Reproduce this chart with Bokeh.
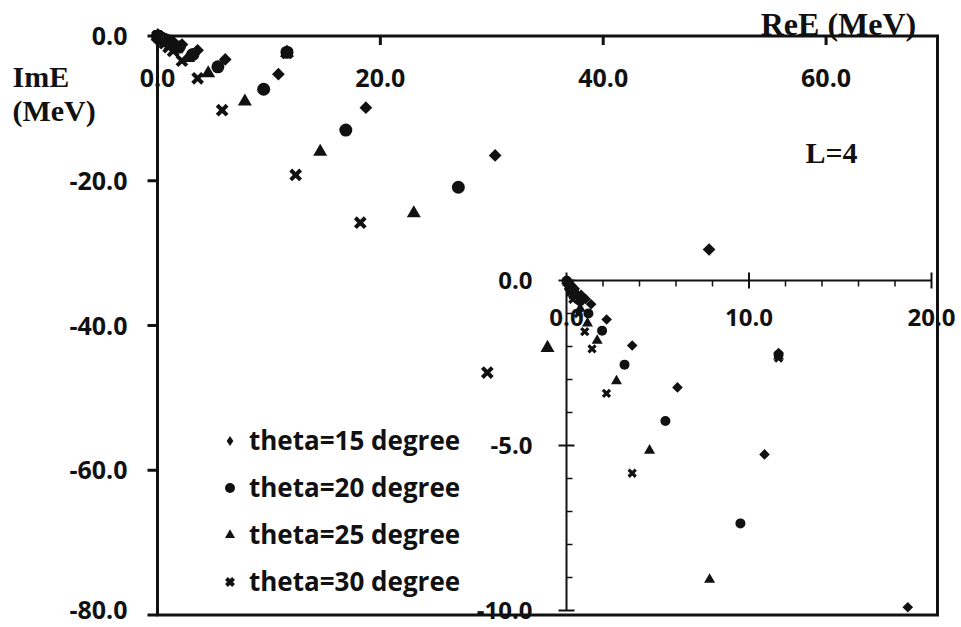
import numpy as np
from bokeh.plotting import figure
from bokeh.models import (Range1d, Label, Legend, LegendItem, ColumnDataSource,
                          CDSView, BooleanFilter)
from bokeh.core.properties import value
from bokeh.embed import file_html
from bokeh.resources import INLINE

# ---------------- data (ReE, ImE in MeV) ----------------
theta15_re = [0.01, 0.05, 0.15, 0.28, 0.45, 0.80, 1.05, 1.35, 2.20, 3.60, 6.08, 10.85, 11.62, 18.7, 30.3, 49.5]
theta15_im = [-0.01, -0.03, -0.08, -0.15, -0.25, -0.43, -0.56, -0.72, -1.18, -1.97, -3.24, -5.27, -2.20, -9.9, -16.5, -29.5]

theta20_re = [0.01, 0.05, 0.15, 0.27, 0.42, 0.75, 1.20, 1.95, 3.18, 5.42, 9.53, 11.62, 16.9, 27.0]
theta20_im = [-0.01, -0.04, -0.13, -0.23, -0.35, -0.63, -1.00, -1.52, -2.55, -4.26, -7.36, -2.25, -13.0, -20.9]

theta25_re = [0.01, 0.05, 0.15, 0.26, 0.42, 0.75, 1.15, 1.68, 2.74, 4.55, 7.84, 11.62, 14.6, 23.0, 35.0]
theta25_im = [-0.01, -0.05, -0.17, -0.29, -0.47, -0.85, -1.30, -1.82, -3.05, -5.15, -9.06, -2.30, -16.0, -24.5, -43.1]

theta30_re = [0.01, 0.04, 0.12, 0.22, 0.35, 0.65, 1.00, 1.40, 2.19, 3.60, 5.80, 11.62, 12.4, 18.2, 29.6]
theta30_im = [-0.02, -0.07, -0.20, -0.36, -0.57, -1.00, -1.55, -2.07, -3.42, -5.84, -10.25, -2.35, -19.2, -25.8, -46.5]

series_labels = ["theta=15 degree", "theta=20 degree", "theta=25 degree", "theta=30 degree"]

main_x_ticks = [0, 20, 40, 60]
main_y_ticks = [0, -20, -40, -60, -80]
main_x_max, main_y_min = 70, -80
inset_x_ticks = [0, 10, 20]
inset_y_ticks = [0, -5, -10]
inset_x_minor_step = 2
inset_y_minor_step = 1

# ---------------- layout (pixels) ----------------
W, H = 961, 627
BOX_L, BOX_R, BOX_T, BOX_B = 157, 937, 35.5, 614.5        # main plot box
SX = (BOX_R - BOX_L) / main_x_max
SY = (BOX_B - BOX_T) / -main_y_min
I_X0, I_Y0 = 566, 280                                      # inset origin
I_SX = (931 - I_X0) / max(inset_x_ticks)
I_SY = (610 - I_Y0) / -min(inset_y_ticks)

SANS = "Open Sans"
SERIF = "Liberation Serif"
INK = "#111111"

p = figure(width=W, height=H, title=None,
           x_range=Range1d(-BOX_L / SX, (W - BOX_L) / SX),
           y_range=Range1d(-(H - BOX_T) / SY, BOX_T / SY),
           x_axis_location=None, y_axis_location=None,
           min_border=0, output_backend="svg", toolbar_location=None,
           background_fill_color="white", border_fill_color="white")
p.grid.visible = False
p.outline_line_color = None

p.extra_x_ranges = {"ix": Range1d(-I_X0 / I_SX, (W - I_X0) / I_SX)}
p.extra_y_ranges = {"iy": Range1d(-(H - I_Y0) / I_SY, I_Y0 / I_SY)}
IR = dict(x_range_name="ix", y_range_name="iy")

# ---------------- main axes (box, ticks, labels) ----------------
p.line(x=[0, main_x_max, main_x_max, 0, 0], y=[0, 0, main_y_min, main_y_min, 0],
       line_color=INK, line_width=3, line_join="miter")
p.segment(x0=main_x_ticks, x1=main_x_ticks, y0=[0] * len(main_x_ticks),
          y1=[-9 / SY] * len(main_x_ticks), line_color=INK, line_width=3)
p.segment(x0=[-10 / SX] * len(main_y_ticks), x1=[0] * len(main_y_ticks),
          y0=main_y_ticks, y1=main_y_ticks, line_color=INK, line_width=3)
lab = dict(text_font=value(SANS), text_font_style="bold", text_color=INK, text_baseline="middle")
p.text(x=main_x_ticks, y=[0] * len(main_x_ticks), text=[f"{v:.1f}" for v in main_x_ticks],
       y_offset=41.5, text_align="center", text_font_size="25px", **lab)
# keep the lowest label inside the canvas
y_lab_off = [min(0.0, (H - 18) - (BOX_T - t * SY)) for t in main_y_ticks]
ysrc = ColumnDataSource(dict(x=[0] * len(main_y_ticks), y=main_y_ticks,
                             t=[f"{v:.1f}" for v in main_y_ticks], dy=y_lab_off))
p.text(x="x", y="y", text="t", y_offset="dy", source=ysrc,
       x_offset=-30, text_align="right", text_font_size="25px", **lab)

# ---------------- inset axes ----------------
x_lo, x_hi = min(inset_x_ticks), max(inset_x_ticks)
y_lo, y_hi = min(inset_y_ticks), max(inset_y_ticks)
p.line(x=[x_lo, x_hi], y=[0, 0], line_color=INK, line_width=2, **IR)
p.line(x=[0, 0], y=[y_hi, y_lo], line_color=INK, line_width=2, **IR)
p.segment(x0=inset_x_ticks, x1=inset_x_ticks, y0=[8 / I_SY] * 3, y1=[-8 / I_SY] * 3,
          line_color=INK, line_width=2, **IR)
p.segment(x0=[-8 / I_SX] * 3, x1=[8 / I_SX] * 3, y0=inset_y_ticks, y1=inset_y_ticks,
          line_color=INK, line_width=2, **IR)
xm = [v for v in np.arange(x_lo, x_hi + 0.01, inset_x_minor_step) if v not in inset_x_ticks]
ym = [v for v in np.arange(y_lo, y_hi + 0.01, inset_y_minor_step) if v not in inset_y_ticks]
p.segment(x0=xm, x1=xm, y0=[0] * len(xm), y1=[-6 / I_SY] * len(xm), line_color=INK, line_width=1.5, **IR)
p.segment(x0=[0] * len(ym), x1=[6 / I_SX] * len(ym), y0=ym, y1=ym, line_color=INK, line_width=1.5, **IR)
p.text(x=inset_x_ticks, y=[0] * len(inset_x_ticks), text=[f"{v:.1f}" for v in inset_x_ticks],
       y_offset=37, text_align="center", text_font_size="24px", **lab, **IR)
p.text(x=[0] * len(inset_y_ticks), y=inset_y_ticks, text=[f"{v:.1f}" for v in inset_y_ticks],
       x_offset=-34, text_align="right", text_font_size="24px", **lab, **IR)

# ---------------- series ----------------
styles = [
    dict(marker="square", angle=np.pi / 4, size=9, inset_size=7.5, line_width=0),
    dict(marker="circle", angle=0, size=13, inset_size=10, line_width=0),
    dict(marker="triangle", angle=0, size=14, inset_size=11, line_width=0),
    dict(marker="x", angle=0, size=14, inset_size=10, line_width=4),
]
data = [(theta15_re, theta15_im), (theta20_re, theta20_im),
        (theta25_re, theta25_im), (theta30_re, theta30_im)]

legend_renderers = []
for i, ((xs, ys), st) in enumerate(zip(data, styles)):
    src = ColumnDataSource(dict(x=xs, y=ys))
    lw = st["line_width"]
    kw = dict(fill_color=INK, line_color=INK if lw else None, line_width=lw if lw else 1)
    if i == 0:
        # plain diamond underneath the rotated squares (used for the legend glyph)
        leg = p.scatter("x", "y", source=src, marker="diamond", size=9, fill_color=INK, line_color=None)
    r = p.scatter("x", "y", source=src, marker=st["marker"], angle=st["angle"],
                  size=st["size"], **kw)
    legend_renderers.append(leg if i == 0 else r)
    keep = [(-0.5 <= a <= 20.3) and (b >= -10.1) for a, b in zip(xs, ys)]
    view = CDSView(filter=BooleanFilter(keep))
    p.scatter("x", "y", source=src, view=view, marker=st["marker"], angle=st["angle"],
              size=st["inset_size"], **dict(kw, line_width=(lw * 0.8) if lw else 1), **IR)

legend = Legend(items=[LegendItem(label=lab_, renderers=[r]) for lab_, r in zip(series_labels, legend_renderers)],
                location=(217, 28), orientation="vertical",
                label_text_font=SANS, label_text_font_style="bold",
                label_text_font_size="26px", label_text_color=INK,
                glyph_width=25, glyph_height=25, label_standoff=7, spacing=11,
                padding=0, margin=0, border_line_alpha=0, background_fill_alpha=0)
p.add_layout(legend)

# ---------------- titles / annotations (screen px from bottom-left) ----------------
tkw = dict(x_units="screen", y_units="screen", text_font=SERIF, text_font_style="bold",
           text_color=INK, text_baseline="middle")
p.add_layout(Label(x=838, y=H - 23, text="ReE (MeV)", text_align="center", text_font_size="32px", **tkw))
p.add_layout(Label(x=12, y=H - 76, text="ImE", text_align="left", text_font_size="30px", **tkw))
p.add_layout(Label(x=12, y=H - 110, text="(MeV)", text_align="left", text_font_size="30px", **tkw))
p.add_layout(Label(x=831, y=H - 152, text="L=4", text_align="center", text_font_size="30px", **tkw))

open("out.html", "w").write(file_html(p, INLINE))
